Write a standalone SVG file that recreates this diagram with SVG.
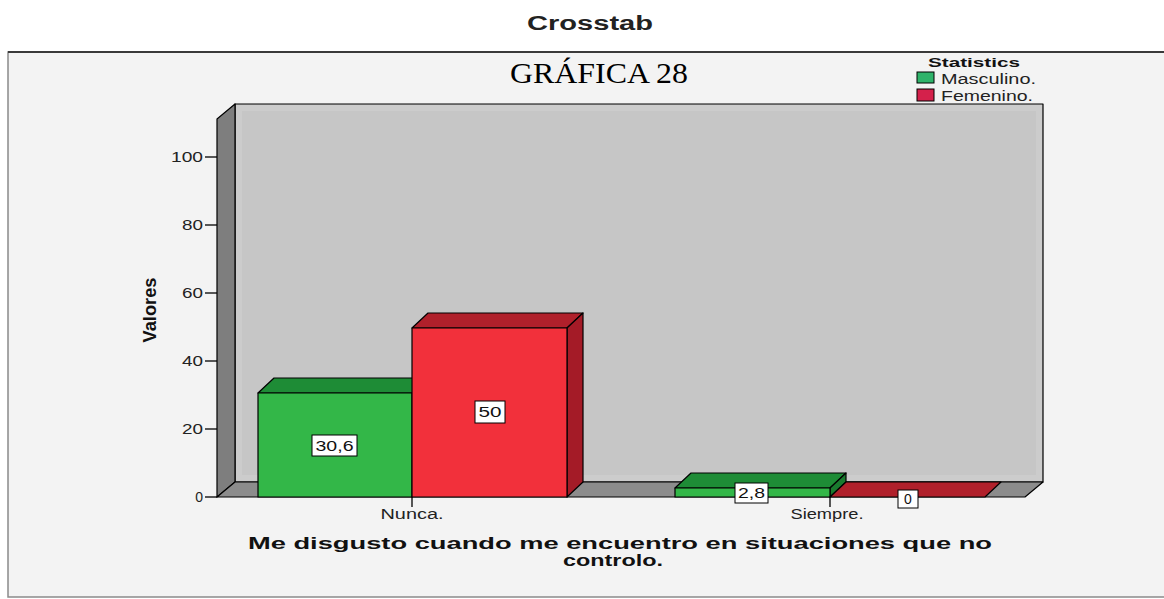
<svg xmlns="http://www.w3.org/2000/svg" width="1164" height="599" viewBox="0 0 1164 599">
<style>
.ax{font-family:"Liberation Sans",Arial,sans-serif;font-size:14px;fill:#222}
.val{font-family:"Liberation Sans",Arial,sans-serif;font-size:14px;fill:#111}
.box{fill:#fff;stroke:#000;stroke-width:1}
.edge{stroke:#000;stroke-width:1.2;stroke-linejoin:round}
.tick{stroke:#000;stroke-width:1.3}
.gf{fill:#33b748}.gt{fill:#1e8c36}.gs{fill:#1a7a2f}
.rf{fill:#f2303b}.rt{fill:#b0202b}.rs{fill:#a41b27}
</style>
<rect x="0" y="0" width="1164" height="599" fill="#ffffff"/>
<rect id="frame" x="8" y="52" width="1160" height="545" fill="#f3f3f3" stroke="#8a8a8a" stroke-width="1.5"/>
<line x1="8" y1="52" x2="1164" y2="52" stroke="#3a3a3a" stroke-width="2"/>
<text id="title" x="590" y="30" text-anchor="middle" font-family="'Liberation Sans',Arial,sans-serif" font-weight="bold" font-size="20" fill="#222" textLength="126" lengthAdjust="spacingAndGlyphs">Crosstab</text>
<text id="subtitle" x="599" y="83" text-anchor="middle" font-family="'Liberation Serif','Times New Roman',serif" font-size="30" fill="#000" textLength="178" lengthAdjust="spacingAndGlyphs">GRÁFICA 28</text>
<g id="legend">
<text x="974" y="67" text-anchor="middle" font-family="'Liberation Sans',Arial,sans-serif" font-weight="bold" font-size="13" fill="#111" textLength="92" lengthAdjust="spacingAndGlyphs">Statistics</text>
<rect x="917" y="72" width="17" height="11" fill="#2fb36a" stroke="#000" stroke-width="1"/>
<text x="941" y="84" font-family="'Liberation Sans',Arial,sans-serif" font-size="14" fill="#222" textLength="95" lengthAdjust="spacingAndGlyphs">Masculino.</text>
<rect x="917" y="89" width="17" height="12" fill="#d4214b" stroke="#000" stroke-width="1"/>
<text x="941" y="101" font-family="'Liberation Sans',Arial,sans-serif" font-size="14" fill="#222" textLength="92" lengthAdjust="spacingAndGlyphs">Femenino.</text>
</g>
<g id="walls">
<rect x="235" y="104" width="808" height="378" fill="#c6c6c6"/>
<rect x="239" y="108" width="800" height="370" fill="none" stroke="#cccccc" stroke-width="6"/>
<rect x="235" y="104" width="808" height="378" fill="none" class="edge"/>
<polygon points="217,119 235,104 235,482 217,497" fill="#7e7e7e" class="edge"/>
<polygon points="217,497 235,482 1043,482 1025,497" fill="#8c8c8c" class="edge"/>
</g>
<g id="yaxis">
<line class="tick" x1="205" y1="497" x2="217" y2="497"/>
<line class="tick" x1="205" y1="429" x2="217" y2="429"/>
<line class="tick" x1="205" y1="361" x2="217" y2="361"/>
<line class="tick" x1="205" y1="293" x2="217" y2="293"/>
<line class="tick" x1="205" y1="225" x2="217" y2="225"/>
<line class="tick" x1="205" y1="157" x2="217" y2="157"/>
<text class="ax" x="203" y="502" text-anchor="end">0</text>
<text class="ax" x="203" y="434" text-anchor="end" textLength="21" lengthAdjust="spacingAndGlyphs">20</text>
<text class="ax" x="203" y="366" text-anchor="end" textLength="21" lengthAdjust="spacingAndGlyphs">40</text>
<text class="ax" x="203" y="298" text-anchor="end" textLength="21" lengthAdjust="spacingAndGlyphs">60</text>
<text class="ax" x="203" y="230" text-anchor="end" textLength="21" lengthAdjust="spacingAndGlyphs">80</text>
<text class="ax" x="203" y="162" text-anchor="end" textLength="32" lengthAdjust="spacingAndGlyphs">100</text>
<text transform="translate(156,310) rotate(-90)" text-anchor="middle" font-family="'Liberation Sans',Arial,sans-serif" font-weight="bold" font-size="19" fill="#111" textLength="65" lengthAdjust="spacingAndGlyphs">Valores</text>
</g>
<g id="bar-nunca-masculino">
<polygon class="gt edge" points="258,393 274,378 428,378 412,393"/>
<rect class="gf edge" x="258" y="393" width="154" height="104"/>
</g>
<g id="bar-nunca-femenino">
<polygon class="rt edge" points="412,328 428,313 583,313 567,328"/>
<polygon class="rs edge" points="567,328 583,313 583,482 567,497"/>
<rect class="rf edge" x="412" y="328" width="155" height="169"/>
</g>
<g id="bar-siempre-masculino">
<polygon class="gt edge" points="675,488 691,473 846,473 830,488"/>
<polygon class="gs edge" points="830,488 846,473 846,482 830,497"/>
<rect class="gf edge" x="675" y="488" width="155" height="9"/>
</g>
<g id="bar-siempre-femenino">
<polygon class="rt edge" points="830,497 846,482 1001,482 985,497"/>
</g>
<g id="xaxis">
<line class="tick" x1="412" y1="497" x2="412" y2="507"/>
<line class="tick" x1="830" y1="497" x2="830" y2="507"/>
<text class="ax" x="412" y="519" text-anchor="middle" textLength="63" lengthAdjust="spacingAndGlyphs">Nunca.</text>
<text class="ax" x="827" y="519" text-anchor="middle" textLength="73" lengthAdjust="spacingAndGlyphs">Siempre.</text>
<text x="620" y="549" text-anchor="middle" font-family="'Liberation Sans',Arial,sans-serif" font-weight="bold" font-size="16" fill="#111" textLength="744" lengthAdjust="spacingAndGlyphs">Me disgusto cuando me encuentro en situaciones que no</text>
<text x="613" y="566" text-anchor="middle" font-family="'Liberation Sans',Arial,sans-serif" font-weight="bold" font-size="16" fill="#111" textLength="100" lengthAdjust="spacingAndGlyphs">controlo.</text>
</g>
<g id="labels">
<rect class="box" x="312" y="435" width="45" height="21"/>
<text class="val" x="334.5" y="451" text-anchor="middle" textLength="38" lengthAdjust="spacingAndGlyphs">30,6</text>
<rect class="box" x="475" y="401" width="30" height="22"/>
<text class="val" x="490" y="417" text-anchor="middle" textLength="23" lengthAdjust="spacingAndGlyphs">50</text>
<rect class="box" x="735" y="483" width="33" height="20"/>
<text class="val" x="751.5" y="498" text-anchor="middle" textLength="27" lengthAdjust="spacingAndGlyphs">2,8</text>
<rect class="box" x="898" y="490" width="20" height="18"/>
<text class="val" x="908" y="504" text-anchor="middle">0</text>
</g>
</svg>
